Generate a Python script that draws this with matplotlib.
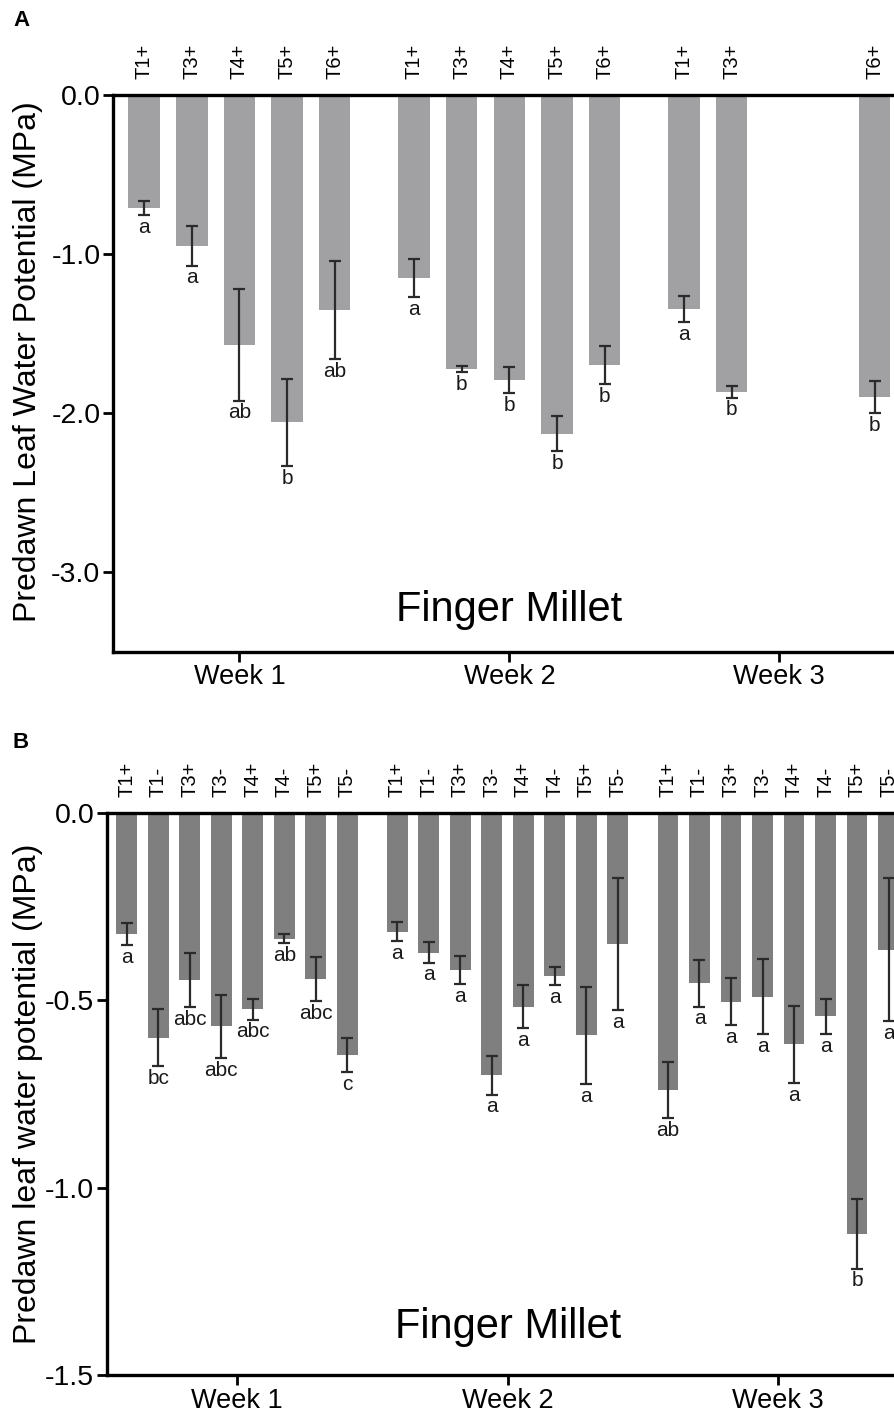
import matplotlib
matplotlib.use("Agg")
import matplotlib.pyplot as plt
import matplotlib.transforms as mtransforms
import numpy as np

plt.rcParams["font.family"] = ["Liberation Sans", "DejaVu Sans"]

# ---------------- data ----------------
weeks = ["Week 1", "Week 2", "Week 3"]

# panel A
a_treat = ["T1+", "T3+", "T4+", "T5+", "T6+"]
a_mean = [
    [-0.71, -0.948, -1.572, -2.059, -1.352],
    [-1.151, -1.723, -1.792, -2.132, -1.700],
    [-1.346, -1.866, np.nan, np.nan, -1.901],
]
a_err = [
    [0.045, 0.125, 0.35, 0.275, 0.31],
    [0.12, 0.021, 0.083, 0.11, 0.12],
    [0.083, 0.037, np.nan, np.nan, 0.10],
]
a_letters = [
    ["a", "a", "ab", "b", "ab"],
    ["a", "b", "b", "b", "b"],
    ["a", "b", "", "", "b"],
]
a_yticks = [0.0, -1.0, -2.0, -3.0]
a_yticklabels = ["0.0", "-1.0", "-2.0", "-3.0"]

# panel B
b_treat = ["T1+", "T1-", "T3+", "T3-", "T4+", "T4-", "T5+", "T5-"]
b_mean = [
    [-0.324, -0.600, -0.447, -0.570, -0.524, -0.336, -0.443, -0.647],
    [-0.317, -0.373, -0.420, -0.700, -0.517, -0.436, -0.594, -0.350],
    [-0.740, -0.455, -0.504, -0.491, -0.618, -0.543, -1.123, -0.365],
]
b_err = [
    [0.029, 0.076, 0.072, 0.085, 0.028, 0.012, 0.059, 0.045],
    [0.025, 0.027, 0.038, 0.052, 0.057, 0.024, 0.13, 0.176],
    [0.075, 0.062, 0.062, 0.10, 0.103, 0.047, 0.093, 0.19],
]
b_letters = [
    ["a", "bc", "abc", "abc", "abc", "ab", "abc", "c"],
    ["a", "a", "a", "a", "a", "a", "a", "a"],
    ["ab", "a", "a", "a", "a", "a", "b", "a"],
]
b_yticks = [0.0, -0.5, -1.0, -1.5]
b_yticklabels = ["0.0", "-0.5", "-1.0", "-1.5"]


def draw_panel(ax, treat, means, errs, letters, step, color, ylim, yticks,
               yticklabels, ylabel, xlim, title_y):
    n = len(treat)
    trans = mtransforms.blended_transform_factory(ax.transData, ax.transAxes)
    for g, wk in enumerate(weeks):
        x = g * step + np.arange(n)
        m = np.array(means[g], dtype=float)
        e = np.array(errs[g], dtype=float)
        ok = ~np.isnan(m)
        ax.bar(x[ok], m[ok], width=0.66, color=color, zorder=2)
        ax.errorbar(x[ok], m[ok], yerr=e[ok], fmt="none", ecolor="#2a2a2a",
                    elinewidth=1.6, capsize=4.2, capthick=1.6, zorder=3)
        for xi, mi, ei, lab, tr in zip(x, m, e, letters[g], treat):
            if np.isnan(mi):
                continue
            ax.annotate(lab, (xi, mi - ei), xytext=(0, -2.0),
                        textcoords="offset points", ha="center", va="top",
                        fontsize=15, color="#1a1a1a")
            ax.text(xi, 1.028, tr, transform=trans, rotation=90,
                    ha="center", va="bottom", fontsize=14.5, clip_on=False)
    centers = [g * step + (n - 1) / 2 for g in range(len(weeks))]
    ax.set_xticks(centers)
    ax.set_xticklabels(weeks, fontsize=19.5)
    ax.set_xlim(*xlim)
    ax.set_ylim(*ylim)
    ax.set_yticks(yticks)
    ax.set_yticklabels(yticklabels, fontsize=20.5)
    ax.set_ylabel(ylabel, fontsize=23)
    ax.tick_params(axis="both", direction="out", length=7, width=2, pad=2)
    for side in ["left", "bottom", "top"]:
        ax.spines[side].set_linewidth(2.4)
    ax.spines["right"].set_visible(False)
    ax.text(centers[1], title_y, "Finger Millet", transform=trans,
            ha="center", va="center", fontsize=30)


fig = plt.figure(figsize=(8.95, 14.17), dpi=100)

W, H = 895.0, 1417.0
# panel A axes: left 113px, top 95px, bottom 651.5px, extends beyond right edge
axA = fig.add_axes([113 / W, (H - 651.5) / H, 793 / W, 556.5 / H])
draw_panel(axA, a_treat, a_mean, a_err, a_letters, 5.67, "#a1a1a4",
           (-3.5, 0.0), a_yticks, a_yticklabels,
           "Predawn Leaf Water Potential (MPa)", (-0.655, 16.0), 0.075)
axA.yaxis.set_label_coords(-0.088, 0.52)

# panel B axes: left 106.7px, top 812.7px, bottom 1375px
axB = fig.add_axes([106.7 / W, (H - 1375) / H, 802 / W, 562.3 / H])
draw_panel(axB, b_treat, b_mean, b_err, b_letters, 8.59, "#7f7f7f",
           (-1.5, 0.0), b_yticks, b_yticklabels,
           "Predawn leaf water potential (MPa)", (-0.635, 24.82), 0.085)
axB.yaxis.set_label_coords(-0.08, 0.5)

fig.text(13 / W, 1 - 20 / H, "A", fontsize=16, fontweight="bold",
         ha="left", va="center")
fig.text(13 / W, 1 - 743 / H, "B", fontsize=16, fontweight="bold",
         ha="left", va="center")

fig.savefig("out.png", dpi=100)
